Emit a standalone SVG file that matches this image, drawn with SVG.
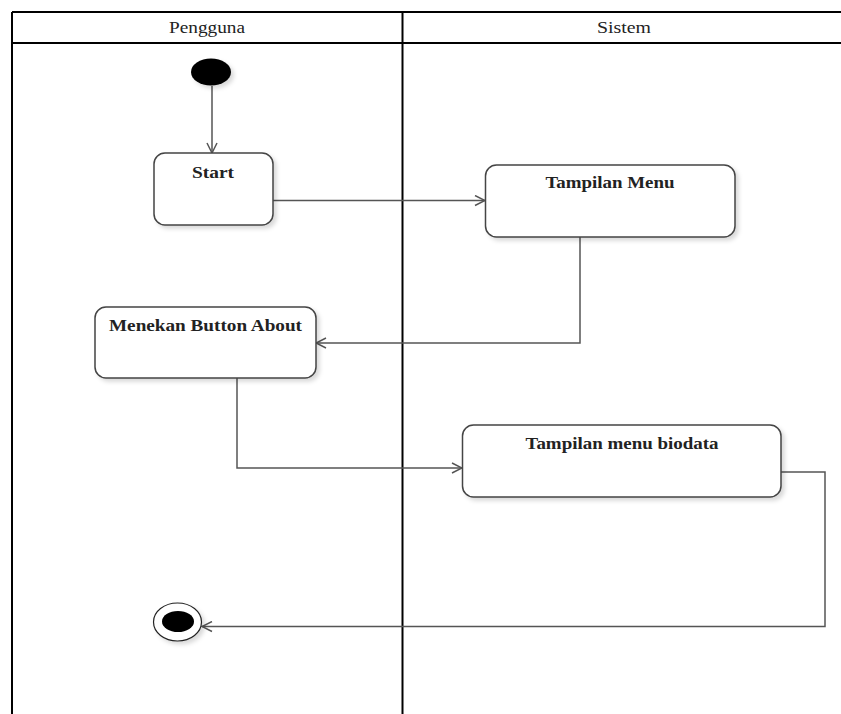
<svg xmlns="http://www.w3.org/2000/svg" width="841" height="714" viewBox="0 0 841 714">
<style>
.lane{fill:none;stroke:#000;stroke-width:2}
.hdr{font-family:"Liberation Serif",serif;font-size:16px;fill:#222;text-anchor:middle}
.box{fill:#fff;stroke:#444;stroke-width:1.5;filter:url(#sh)}
.lbl{font-family:"Liberation Serif",serif;font-size:16px;font-weight:bold;fill:#222;text-anchor:middle}
.conn{fill:none;stroke:#555;stroke-width:1.5;marker-end:url(#arr)}
</style>
<defs>
<filter id="sh" x="-10%" y="-10%" width="130%" height="140%">
<feDropShadow dx="3" dy="3" stdDeviation="2" flood-color="#000" flood-opacity="0.15"/>
</filter>
<marker id="arr" viewBox="0 0 12 12" refX="11" refY="6" markerWidth="12" markerHeight="12" markerUnits="userSpaceOnUse" orient="auto">
<path d="M1,1 L11,6 L1,11" fill="none" stroke="#555" stroke-width="1.5"/>
</marker>
</defs>
<rect width="841" height="714" fill="#fff"/>
<g id="lanes">
<line class="lane" x1="12" y1="12" x2="841" y2="12"/>
<line class="lane" x1="12" y1="43" x2="841" y2="43"/>
<line class="lane" x1="12" y1="12" x2="12" y2="714"/>
<line class="lane" x1="402.5" y1="12" x2="402.5" y2="714"/>
<text class="hdr" x="207" y="33" textLength="76" lengthAdjust="spacingAndGlyphs">Pengguna</text>
<text class="hdr" x="624" y="33" textLength="54" lengthAdjust="spacingAndGlyphs">Sistem</text>
</g>
<g id="connectors">
<path class="conn" d="M212,86 L212,153"/>
<path class="conn" d="M273,200.5 L485,200.5"/>
<path class="conn" d="M580,237 L580,343 L316,343"/>
<path class="conn" d="M237,378 L237,468 L462,468"/>
<path class="conn" d="M781,472 L825,472 L825,626.5 L202,626.5"/>
</g>
<g id="initial">
<ellipse cx="211" cy="72" rx="20" ry="13.5" fill="#000" filter="url(#sh)"/>
</g>
<g id="start">
<rect class="box" x="154" y="153" width="119" height="72" rx="11"/>
<text class="lbl" x="213" y="178" textLength="42" lengthAdjust="spacingAndGlyphs">Start</text>
</g>
<g id="tampilan-menu">
<rect class="box" x="485.5" y="165" width="249.5" height="72" rx="11"/>
<text class="lbl" x="610" y="188" textLength="129" lengthAdjust="spacingAndGlyphs">Tampilan Menu</text>
</g>
<g id="menekan-button-about">
<rect class="box" x="95" y="307" width="221" height="71" rx="11"/>
<text class="lbl" x="205.5" y="331" textLength="193" lengthAdjust="spacingAndGlyphs">Menekan Button About</text>
</g>
<g id="tampilan-menu-biodata">
<rect class="box" x="462.5" y="425" width="318.5" height="72" rx="11"/>
<text class="lbl" x="622" y="449" textLength="193" lengthAdjust="spacingAndGlyphs">Tampilan menu biodata</text>
</g>
<g id="final">
<ellipse cx="177.5" cy="622" rx="24" ry="19" fill="#fff" stroke="#222" stroke-width="1.2" filter="url(#sh)"/>
<ellipse cx="178" cy="621.5" rx="16" ry="10.5" fill="#000"/>
</g>
</svg>
